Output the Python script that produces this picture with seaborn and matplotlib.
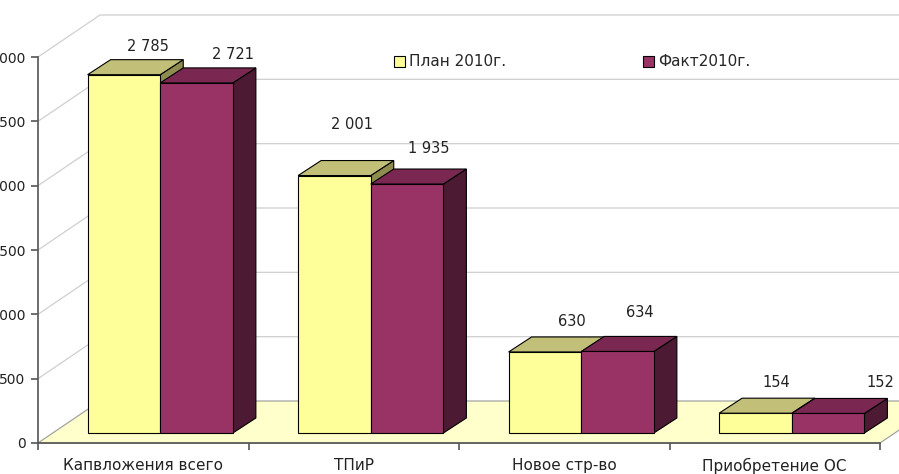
import numpy as np
import pandas as pd
import matplotlib
matplotlib.use("Agg")
import matplotlib.pyplot as plt
import seaborn as sns
from matplotlib.transforms import offset_copy, IdentityTransform
from matplotlib.patches import Polygon, Patch
from matplotlib.lines import Line2D

# ---------------- data ----------------
categories = ["Капвложения всего", "ТПиР", "Новое стр-во", "Приобретение ОС"]
series = ["План 2010г.", "Факт2010г."]
plan_values = [2785, 2001, 630, 154]
fact_values = [2721, 1935, 634, 152]
plan_labels = ["2 785", "2 001", "630", "154"]
fact_labels = ["2 721", "1 935", "634", "152"]
y_ticks = [0, 500, 1000, 1500, 2000, 2500, 3000]
y_tick_labels = ["0", "500", "1 000", "1 500", "2 000", "2 500", "3 000"]

# ---------------- style ----------------
FRONT = {series[0]: "#FFFF99", series[1]: "#993366"}
TOP = {series[0]: "#C2C078", series[1]: "#7A2852"}
SIDE = {series[0]: "#8E8C4E", series[1]: "#4D1A33"}
WALL_DEPTH = (62, 42)      # pixels
BAR_DEPTH = (23, 15)       # pixels
BAR_SHIFT = (17, 10)       # pixels
LABEL_OFFSETS = {series[0]: [(24, 28), (18, 51), (27, 30), (21, 31)],
                 series[1]: [(36, 28), (22, 36), (22, 39), (52, 31)]}
TEXT = "#222222"

sns.set_theme(style="white")
plt.rcParams["font.family"] = ["DejaVu Sans"]

W, H = 899, 474
fig = plt.figure(figsize=(W / 100, H / 100), dpi=100)
fig.patch.set_facecolor("white")
ax = fig.add_axes([38 / W, 31 / H, 842 / W, 386 / H])
ax.set_facecolor("none")

df = pd.DataFrame({
    "cat": categories * 2,
    "series": [series[0]] * len(categories) + [series[1]] * len(categories),
    "value": plan_values + fact_values,
})
sns.barplot(data=df, x="cat", y="value", hue="series", order=categories,
            hue_order=series, palette=FRONT, width=0.69, saturation=1,
            edgecolor="black", linewidth=0.8, legend=False, ax=ax)

ax.set_xlim(-0.5, 3.5)
ax.set_ylim(0, 3000)

ident = IdentityTransform()

# floor
f0 = ax.transData.transform((-0.5, 0))
f1 = ax.transData.transform((3.5, 0))
dx, dy = WALL_DEPTH
floor = Polygon([f0, f1, (f1[0] + dx, f1[1] + dy), (f0[0] + dx, f0[1] + dy)],
                closed=True, facecolor="#FFFFCC", edgecolor="#9A9A9A",
                linewidth=0.8, transform=ident, zorder=0.5, clip_on=False)
ax.add_artist(floor)

# wall gridlines
for v in y_ticks[1:]:
    p = ax.transData.transform((-0.5, v))
    r = ax.transData.transform((3.5, v))
    q = (p[0] + dx, p[1] + dy)
    ax.add_artist(Line2D([p[0], q[0], r[0] + dx], [p[1], q[1], r[1] + dy],
                         color="#CFCFCF", linewidth=0.9, transform=ident,
                         zorder=0.6, clip_on=False))

# bars with pseudo-3D faces
bar_tr = offset_copy(ax.transData, fig=fig, x=BAR_SHIFT[0], y=BAR_SHIFT[1], units="dots")
bdx, bdy = BAR_DEPTH
for si, (s, cont) in enumerate(zip(series, ax.containers)):
    base_z = 2 + si * 2
    labels = plan_labels if si == 0 else fact_labels
    for bi, bar in enumerate(cont.patches):
        bar.set_transform(bar_tr)
        bar.set_clip_on(False)
        bar.set_zorder(base_z + 0.5)
        x0 = bar.get_x()
        w = bar.get_width()
        h = bar.get_height()
        (ax0, ay0), (ax1, ay1) = bar_tr.transform([(x0, 0), (x0 + w, h)])
        top = Polygon([(ax0, ay1), (ax1, ay1), (ax1 + bdx, ay1 + bdy), (ax0 + bdx, ay1 + bdy)],
                      closed=True, facecolor=TOP[s], edgecolor="black", linewidth=0.8,
                      transform=ident, zorder=base_z + 0.6, clip_on=False)
        side = Polygon([(ax1, ay0), (ax1, ay1), (ax1 + bdx, ay1 + bdy), (ax1 + bdx, ay0 + bdy)],
                       closed=True, facecolor=SIDE[s], edgecolor="black", linewidth=0.8,
                       transform=ident, zorder=base_z + 0.4, clip_on=False)
        ax.add_artist(side)
        ax.add_artist(top)
        ox, oy = LABEL_OFFSETS[s][bi]
        ax.annotate(labels[bi], xy=(x0 + w / 2, h), xycoords=bar_tr,
                    xytext=(ox, oy), textcoords="offset pixels",
                    ha="center", va="center", fontsize=10.5, color=TEXT,
                    annotation_clip=False, zorder=10)

# axes styling
for sp in ["top", "right"]:
    ax.spines[sp].set_visible(False)
for sp in ["left", "bottom"]:
    ax.spines[sp].set_color("#555555")
    ax.spines[sp].set_linewidth(1.2)
    ax.spines[sp].set_zorder(1)

ax.set_yticks(y_ticks)
ax.set_yticklabels(y_tick_labels)
ax.tick_params(axis="y", left=True, length=5, width=1.2, color="#555555",
               labelsize=10, labelcolor=TEXT, pad=4)
ax.set_xticks(range(len(categories)))
ax.set_xticklabels(categories)
ax.tick_params(axis="x", which="major", bottom=False, length=0,
               labelsize=11, labelcolor=TEXT, pad=11)
ax.set_xticks([-0.5, 0.5, 1.5, 2.5, 3.5], minor=True)
ax.tick_params(axis="x", which="minor", bottom=True, length=5, width=1.2, color="#555555")
ax.set_xlabel("")
ax.set_ylabel("")
ax.grid(False)

handles = [Patch(facecolor=FRONT[s], edgecolor="black", linewidth=0.8) for s in series]
fig.legend(handles, series, loc="center left", bbox_to_anchor=(394 / W, 1 - 62 / H),
           ncol=2, frameon=False, fontsize=11, handlelength=0.7, handleheight=0.7,
           handletextpad=0.25, columnspacing=9.0, borderaxespad=0, borderpad=0)

fig.savefig("out.png", dpi=100)
